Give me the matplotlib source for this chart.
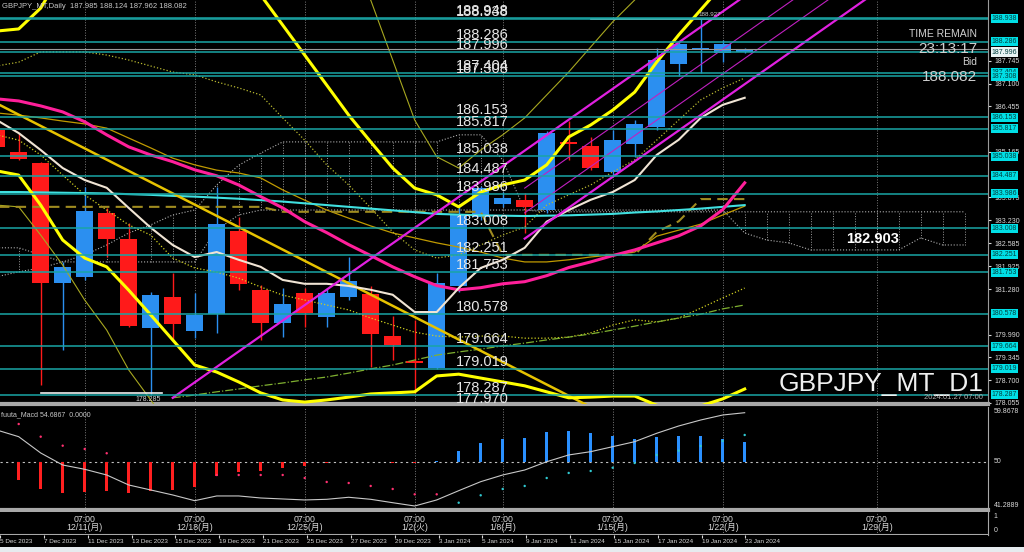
import numpy as np
import matplotlib
matplotlib.use("Agg")
import matplotlib.pyplot as plt
import matplotlib.transforms as mtransforms
from matplotlib.patches import Rectangle

plt.rcParams['font.family'] = ['Liberation Sans', 'Noto Sans CJK JP']

BG = "black"
FG = "#d8d8d8"
LEVEL = "#1aa5a5"
nan = np.nan

# ---- daily bars ----
dates = ["5 Dec 2023", "6 Dec 2023", "7 Dec 2023", "8 Dec 2023", "11 Dec 2023",
         "12 Dec 2023", "13 Dec 2023", "14 Dec 2023", "15 Dec 2023", "18 Dec 2023",
         "19 Dec 2023", "20 Dec 2023", "21 Dec 2023", "22 Dec 2023", "25 Dec 2023",
         "26 Dec 2023", "27 Dec 2023", "28 Dec 2023", "29 Dec 2023", "2 Jan 2024",
         "3 Jan 2024", "4 Jan 2024", "5 Jan 2024", "8 Jan 2024", "9 Jan 2024",
         "10 Jan 2024", "11 Jan 2024", "12 Jan 2024", "15 Jan 2024", "16 Jan 2024",
         "17 Jan 2024", "18 Jan 2024", "19 Jan 2024", "22 Jan 2024", "23 Jan 2024"]
opens = [185.79, 185.15, 184.85, 181.46, 181.62, 183.43, 182.69, 180.17, 181.05, 180.08,
         180.58, 182.94, 181.26, 180.31, 181.18, 180.50, 181.07, 181.14, 179.95, 179.23,
         179.04, 181.37, 183.33, 183.69, 183.81, 183.52, 185.46, 185.32, 184.59, 185.39,
         185.87, 187.65, 188.08, 187.98, 187.985]
highs = [185.93, 185.70, 184.87, 182.06, 184.18, 183.58, 183.15, 181.21, 181.73, 181.16,
         184.18, 183.33, 181.40, 181.31, 181.31, 181.31, 182.18, 181.37, 180.52, 180.41,
         181.73, 183.60, 184.20, 184.04, 184.00, 185.77, 186.03, 185.60, 185.79, 186.07,
         188.10, 188.286, 188.927, 188.34, 188.124]
lows = [185.22, 184.94, 178.57, 179.56, 181.54, 182.20, 180.22, 178.285, 179.84, 179.89,
        180.03, 181.26, 179.84, 179.93, 180.22, 180.22, 180.97, 179.08, 179.27, 178.33,
        179.019, 181.20, 183.25, 183.60, 182.86, 183.43, 184.95, 184.66, 184.51, 185.03,
        185.79, 187.308, 187.404, 187.72, 187.962]
closes = [185.31, 184.96, 181.45, 181.92, 183.50, 182.69, 180.24, 181.12, 180.29, 180.55,
          183.13, 181.43, 180.31, 180.86, 180.60, 181.18, 181.51, 180.01, 179.70, 179.18,
          181.45, 183.38, 184.14, 183.85, 183.62, 185.71, 185.39, 184.70, 185.51, 185.96,
          187.77, 188.23, 188.10, 188.23, 188.082]

# ---- indicators (price) ----
ma_white = [186.07, 185.70, 185.22, 184.71, 184.37, 184.15, 183.58, 183.02, 182.53, 182.19,
            182.33, 182.11, 181.91, 181.54, 181.43, 181.43, 181.37, 181.26, 181.12, 180.63,
            180.63, 181.31, 181.88, 182.11, 182.45, 183.19, 183.52, 183.81, 184.03, 184.37,
            185.08, 185.51, 186.13, 186.50, 186.70]
ma_pink = [186.67, 186.61, 186.47, 186.30, 186.02, 185.65, 185.31, 185.08, 184.89, 184.66,
           184.49, 184.23, 183.90, 183.58, 183.19, 182.88, 182.54, 182.23, 181.91, 181.63,
           181.38, 181.26, 181.32, 181.43, 181.49, 181.66, 181.89, 182.05, 182.23, 182.39,
           182.59, 182.79, 183.07, 183.53, 184.29]
ma_cyan = [184.03, 184.03, 184.02, 184.01, 184.00, 183.99, 183.97, 183.95, 183.92, 183.90,
           183.87, 183.84, 183.80, 183.76, 183.71, 183.66, 183.61, 183.56, 183.51, 183.46,
           183.41, 183.39, 183.37, 183.36, 183.35, 183.36, 183.37, 183.39, 183.41, 183.45,
           183.48, 183.52, 183.56, 183.61, 183.66]
ma_gold = [186.27, 186.21, 186.13, 186.04, 185.96, 185.84, 185.56, 185.28, 184.99, 184.80,
           184.65, 184.57, 184.43, 184.09, 183.80, 183.52, 183.29, 183.07, 182.87, 182.73,
           182.59, 182.47, 182.33, 182.16, 182.05, 182.05, 182.11, 182.19, 182.25, 182.33,
           182.78, 182.95, 183.12, 183.38, 183.63]
bb2_upper = [188.59, 188.65, 189.24, 190.3, 190.6, 190.8, 190.9, 190.9, 190.8, 190.6,
             190.3, 189.9, 189.61, 188.76, 187.91, 187.06, 186.21, 185.45, 184.71, 184.14,
             183.95, 183.61, 184.03, 184.23, 184.37, 184.80, 185.59, 185.93, 186.35, 186.86,
             187.71, 188.48, 189.19, 189.90, 190.60]
bb2_lower = [184.63, 184.51, 183.66, 182.67, 182.16, 181.91, 181.25, 180.55, 179.84, 179.13,
             178.93, 178.65, 178.34, 178.14, 178.08, 178.14, 178.22, 178.31, 178.34, 178.37,
             178.82, 178.87, 178.76, 178.65, 178.54, 178.37, 178.20, 178.22, 178.25, 178.25,
             177.99, 177.88, 177.97, 178.17, 178.45]
bb3_upper = [189.6, 189.7, 190.6, 192.3, 192.9, 193.5, 193.8, 193.8, 193.7, 193.5,
             193.2, 192.7, 192.5, 191.4, 190.8, 190.4, 190.0, 189.47, 187.77, 186.07,
             185.03, 184.71, 185.22, 185.65, 186.13, 186.78, 187.43, 188.14, 188.85, 189.47,
             190.3, 191.3, 192.3, 193.5, 195.2]
bb3_lower = [183.66, 183.61, 182.81, 181.96, 180.97, 180.12, 178.99, 178.14, 177.29, 176.3,
             175.9, 175.6, 175.2, 174.9, 174.8, 174.8, 174.9, 175.0, 175.1, 175.3,
             176.5, 176.7, 176.5, 176.3, 176.1, 175.7, 175.4, 175.3, 175.3, 175.2,
             174.7, 174.4, 174.3, 174.5, 174.9]
kijun = [183.61] * 13 + [183.47] * 10 + [182.25] * 7 + [182.90, 183.20, 183.83, 183.83, 183.83]
dot_line_a = [187.60, 187.71, 188.00, 188.00, 188.00, 187.91, 187.77, 187.60, 187.43, 187.35,
              187.15, 186.98, 186.78, 186.13, 185.50, 184.80, 184.23, 183.58, 182.90, 182.39,
              182.16, 182.25, 182.53, 182.81, 183.04, 183.66, 183.95, 184.23, 184.60, 184.94,
              185.50, 186.07, 186.64, 186.98, 187.26]
dot_line_b = [185.65, 185.50, 185.08, 184.51, 183.95, 183.52, 183.10, 182.81, 182.16, 181.88,
              181.76, 181.59, 181.34, 181.11, 180.97, 180.83, 180.69, 180.46, 180.26, 180.06,
              179.95, 179.92, 179.95, 179.95, 179.89, 179.89, 179.92, 180.04, 180.26, 180.41,
              180.35, 180.46, 180.74, 181.03, 181.31]
dashdot_c = [nan] * 8 + [178.20, 178.28, 178.37, 178.45, 178.54, 178.62, 178.71, 178.79, 178.90,
                         179.02, 179.13, 179.27, 179.41, 179.50, 179.58, 179.67, 179.75, 179.84,
                         179.92, 180.01, 180.12, 180.23, 180.35, 180.46, 180.57, 180.72, 180.83]
# ichimoku cloud, shifted into the future
span_a = ([181.63, 181.77, 181.88, 182.05, 182.25, 182.53, 182.87, 183.10, 183.38, 183.52,
           184.23, 184.79, 185.13] + [185.45] * 8 + [185.65, 185.65, 184.94, 183.52]
          + [183.47] * 20)
span_b = ([182.45, 182.45, 182.25] + [182.05] * 7 + [182.96, 183.38] + [183.52] * 22
          + [182.87, 182.67, 182.59, 182.39, 182.39, 182.39, 182.39, 182.39, 182.73, 182.53, 182.53])
cloud_value = 182.903

# trend / channel lines (bar index, price)
trend_down = ([0, 27], [186.54, 177.94])
channel_upper = ([8, 34], [178.20, 189.58])
channel_lower = ([24, 40], [182.71, 189.71])
channel_thin = [([24, 40], [184.14, 191.14]), ([24, 40], [183.44, 190.44])]

levels = [188.948, 188.938, 188.286, 187.996, 187.404, 187.308, 186.153, 185.817, 185.038,
          184.487, 183.986, 183.008, 182.251, 181.753, 180.578, 179.664, 179.019, 178.287, 177.970]
axis_ticks = [187.745, 187.100, 186.455, 185.165, 183.875, 183.230, 182.585,
              181.925, 181.280, 179.990, 179.345, 178.700, 178.055]

# ---- oscillator (deviation from 50) ----
osc_hist = [-2.5, -3.28, -4.97, -5.70, -5.41, -5.23, -5.70, -5.23, -5.10, -4.61,
            -2.55, -1.77, -1.59, -1.15, -0.73, -0.24, 0.05, 0.02, -0.18, -0.15,
            0.10, 2.06, 3.41, 4.14, 4.43, 5.41, 5.65, 5.23, 4.74, 4.14,
            4.61, 4.79, 4.74, 4.14, 3.70]
osc_line = [5.83, 4.61, 1.64, -0.55, -1.33, -2.37, -4.19, -5.10, -6.01, -7.05,
            -6.19, -6.19, -6.56, -6.74, -6.92, -6.80, -6.43, -6.80, -7.42, -8.02,
            -6.92, -5.23, -3.59, -2.37, -1.46, 0.05, 1.28, 1.88, 2.79, 3.70,
            5.23, 6.56, 7.65, 8.56, 8.98]
osc_dots = [nan, 6.92, 4.61, 2.97, 2.37, 1.59, nan, nan, nan, nan,
            -2.37, -2.37, -2.37, -2.37, -2.92, -3.64, -3.83, -4.37, -4.92, -5.89,
            -5.89, -7.42, -6.07, -4.92, -4.37, -2.92, -2.00, -1.64, -1.04, -0.18,
            1.28, 2.06, 2.92, 3.83, 4.92]

grid_idx = [4, 9, 14, 19, 23, 28, 33, 40]
grid_labels = ["12/11(月)", "12/18(月)", "12/25(月)", "1/2(火)", "1/8(月)",
               "1/15(月)", "1/22(月)", "1/29(月)"]

W, H = 1024, 552
fig = plt.figure(figsize=(W / 100, H / 100), dpi=100, facecolor=BG)


def px_axes(top, bottom, right=988):
    a = fig.add_axes([0, 1 - bottom / H, right / W, (bottom - top) / H])
    a.set_facecolor(BG)
    a.set_xlim(0.15, 45.06)
    for s in a.spines.values():
        s.set_visible(False)
    a.set_xticks([])
    a.set_yticks([])
    return a


ax = px_axes(0, 404)
axm = px_axes(407, 510)
axt = px_axes(512, 535)
axd = px_axes(535, 547)

x = np.arange(len(dates))

# ---------- main chart ----------
ymin, ymax = 178.025, 189.47
ax.set_ylim(ymin, ymax)
for a in (ax, axm, axt):
    for g in grid_idx:
        a.axvline(g, color="#7a7a7a", lw=0.7, ls=":", zorder=1)

xc = np.arange(len(span_a))
ax.plot(xc, span_a, color="#b0b0b0", lw=0.8, ls=":", zorder=2)
ax.plot(xc, span_b, color="#b0b0b0", lw=0.8, ls=":", zorder=2)
ax.vlines(xc, np.minimum(span_a, span_b), np.maximum(span_a, span_b),
          color="#9a9a9a", lw=0.7, linestyles="dotted", zorder=2)

o, c = np.array(opens), np.array(closes)
up = c >= o
cols = np.where(up, "#2b8ff0", "#ff1a1a")
ax.vlines(x, lows, highs, color=cols, lw=1.0, zorder=2.5)
ax.bar(x, np.maximum(np.abs(c - o), 0.03), bottom=np.minimum(o, c), width=0.78,
       color=cols, zorder=2.6)

ax.plot(x, bb3_upper, color="#a8a820", lw=0.8, zorder=3)
ax.plot(x, bb3_lower, color="#a8a820", lw=0.8, zorder=3)
ax.plot(x, ma_gold, color="#c09a00", lw=0.9, zorder=3)
ax.plot(x, dot_line_a, color="#b8b830", lw=0.9, ls=":", zorder=3)
ax.plot(x, dot_line_b, color="#d0d020", lw=0.9, ls=":", zorder=3)
ax.plot(x, dashdot_c, color="#7fb030", lw=0.9, ls="-.", zorder=3)
ax.plot(x, kijun, color="#a08c20", lw=1.5, ls=(0, (5, 3)), zorder=3)
ax.plot(x, ma_cyan, color="#40e0e0", lw=1.5, zorder=3)
ax.plot(*trend_down, color="#e6c200", lw=1.8, zorder=3)
ax.plot(x, bb2_upper, color="#ffff00", lw=2.2, zorder=3.2)
ax.plot(x, bb2_lower, color="#ffff00", lw=2.2, zorder=3.2)
ax.plot(x, ma_pink, color="#ff1f9a", lw=2.2, zorder=3.2)
ax.plot(x, ma_white, color="#f0e4d4", lw=1.5, zorder=3.2)
ax.plot(*channel_upper, color="#e020e0", lw=1.6, zorder=3.3)
ax.plot(*channel_lower, color="#e020e0", lw=1.6, zorder=3.3)
for xs, ys in channel_thin:
    ax.plot(xs, ys, color="#c020c0", lw=0.8, zorder=3.3)

# high / low markers
ax.plot([27, 35.06], [highs[32], highs[32]], color="#f0f0f0", lw=1.2, zorder=3.4)
ax.text(32.4, highs[32] + 0.05, f"{highs[32]:.3f}", color="#c8c8c8", fontsize=4.5,
        ha="center", va="bottom", zorder=5)
ax.plot([2, 7.5], [lows[7] + 0.05, lows[7] + 0.05], color="#f0f0f0", lw=1.2, zorder=3.4)
ax.text(6.9, lows[7] - 0.03, f"{lows[7]:.3f}", color="#d0d0d0", fontsize=5,
        ha="center", va="top", zorder=5)

ax.axhline(closes[-1], color="#9a9a9a", lw=0.8, zorder=3.5)

tr = mtransforms.blended_transform_factory(ax.transAxes, ax.transData)
for lv in levels:
    ax.axhline(lv, color=LEVEL, lw=1.1, zorder=4)
    ax.text(456 / 988, lv, f"{lv:.3f}", transform=tr, fontsize=10.5, color="#e6e6e6",
            ha="left", va="bottom", zorder=5)
    if ymin < lv < ymax:
        fc = "#e8f4f4" if lv == 187.996 else "#00dfe6"
        ax.text(1.004, lv, f"{lv:.3f}", transform=tr, fontsize=5, color="#004040",
                ha="left", va="center", clip_on=False, zorder=7,
                bbox=dict(boxstyle="square,pad=0.15", fc=fc, ec="none"))

ax.yaxis.tick_right()
ax.set_yticks(axis_ticks)
ax.set_yticklabels([f"{t:.3f}" for t in axis_ticks])
ax.tick_params(axis="y", labelsize=5, colors=FG, length=2, pad=3)
ax.spines["right"].set_visible(True)
ax.spines["right"].set_color("#9a9a9a")
ax.spines["bottom"].set_visible(True)
ax.spines["bottom"].set_color("#a8a8a8")
ax.spines["bottom"].set_linewidth(3)

ax.text(873 / 988, cloud_value - 0.2, f"{cloud_value:.3f}", transform=tr, fontsize=10.5,
        fontweight="bold", color="white", ha="center", va="center", zorder=6)
ax.text(0.002, 0.992, "GBPJPY_MT,Daily  187.985 188.124 187.962 188.082",
        transform=ax.transAxes, fontsize=5.5, color="#c8c8c8", ha="left", va="top", zorder=6)
ax.text(0.995, 0.05, "GBPJPY_MT_D1", transform=ax.transAxes, fontsize=19,
        color="#f0f0f0", ha="right", va="center", zorder=6)
ax.text(0.995, 0.008, "2024.01.27 07:00", transform=ax.transAxes, fontsize=5.5,
        color="#b0b0b0", ha="right", va="bottom", zorder=6)

fig.text(977 / W, 1 - 34 / H, "TIME REMAIN", fontsize=7.5, color="#d0d0d0", ha="right", va="center")
fig.text(977 / W, 1 - 49 / H, "23:13:17", fontsize=11, color="#d0d0d0", ha="right", va="center")
fig.text(977 / W, 1 - 62 / H, "Bid", fontsize=7.5, color="#d0d0d0", ha="right", va="center")
fig.text(977 / W, 1 - 77 / H, "188.082", fontsize=11, color="#d0d0d0", ha="right", va="center")

# ---------- oscillator ----------
base = 50.0
axm.set_ylim(41.25, 60.02)
axm.axhline(base, color="#c0c0c0", lw=0.8, ls=(0, (2, 3)))
hist = np.array(osc_hist)
axm.bar(x, hist, bottom=base, width=0.12,
        color=np.where(hist < 0, "#ff2020", "#2a90ff"), zorder=2)
axm.plot(x, base + np.array(osc_line), color="#c8c8c8", lw=0.8, zorder=3)
dot_cols = ["#ff3070" if i <= 20 else "#30c8d0" for i in x]
axm.scatter(x, base + np.array(osc_dots), s=3, c=dot_cols, zorder=4, linewidths=0)
axm.text(0.001, 0.96, "fuuta_Macd 54.6867  0.0000", transform=axm.transAxes,
         fontsize=5, color="#c8c8c8", ha="left", va="top")
trm = mtransforms.blended_transform_factory(axm.transAxes, axm.transData)
for val, lab, va in [(59.9, "59.8678", "top"), (base, "50", "center"), (41.4, "41.2889", "bottom")]:
    axm.text(1.006, val, lab, transform=trm, fontsize=5, color=FG, ha="left", va=va, clip_on=False)
for s in ("right", "bottom"):
    axm.spines[s].set_visible(True)
    axm.spines[s].set_color("#a8a8a8")
axm.spines["bottom"].set_linewidth(3)

# ---------- time panel ----------
axt.set_ylim(0, 1)
for g, lab in zip(grid_idx, grid_labels):
    axt.text(g, 0.5, "07:00\n" + lab, fontsize=6.3, color=FG, ha="center", va="center",
             linespacing=0.85)
axt.text(1.006, 0.8, "1", transform=axt.transAxes, fontsize=5, color=FG, va="center", clip_on=False)
axt.text(1.006, 0.2, "0", transform=axt.transAxes, fontsize=5, color=FG, va="center", clip_on=False)
for s in ("right", "bottom"):
    axt.spines[s].set_visible(True)
    axt.spines[s].set_color("#a8a8a8")
axt.spines["bottom"].set_linewidth(1.5)

# ---------- date strip ----------
axd.set_ylim(0, 1)
axd.xaxis.tick_top()
axd.set_xticks(x[::2])
axd.tick_params(axis="x", direction="in", length=2.5, color=FG, labeltop=False)
for i in x[::2]:
    axd.text(i, 0.42, dates[i], fontsize=4.6, color=FG, ha="left", va="center", clip_on=True)

fig.patches.append(Rectangle((0, 0), 1, 5 / H, transform=fig.transFigure,
                             facecolor="#e6ebef", edgecolor="none"))

fig.savefig("out.png", dpi=100, facecolor=BG)
